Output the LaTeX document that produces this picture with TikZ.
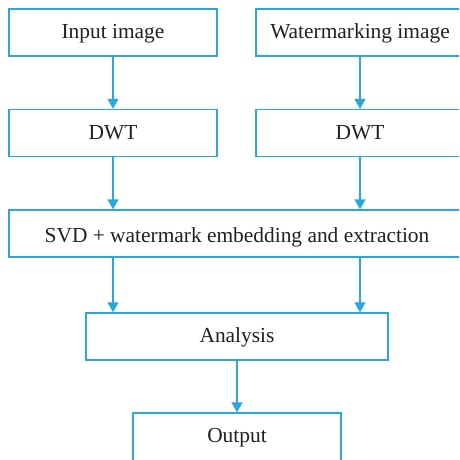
\documentclass[tikz,border=0pt]{standalone}
\usepackage{fontspec}
\setmainfont{Liberation Serif}
\usetikzlibrary{arrows.meta}
\definecolor{flowblue}{RGB}{45,166,222}
\definecolor{ink}{RGB}{35,31,32}
\tikzset{
  box/.style={draw=flowblue, line width=1.3pt, inner sep=0pt, text=ink,
    font=\fontsize{21.4}{25}\selectfont, minimum height=47pt,
    text height=14pt, text depth=2pt},
  flow/.style={draw=flowblue, line width=1.3pt,
    -{Triangle[width=11pt,length=10pt]}}
}
\begin{document}
\begin{tikzpicture}[x=1pt,y=-1pt]
  \clip (0,0) rectangle (459,460);
  \fill[white] (0,0) rectangle (459,460);

  \node[box, minimum width=208pt] (in)  at (113,32.5)    {Input image};
  \node[box, minimum width=208pt] (wm)  at (360,32.5)    {Watermarking image};
  \node[box, minimum width=208pt] (dl)  at (113,133)     {DWT};
  \node[box, minimum width=208pt] (dr)  at (360,133)     {DWT};
  \node[box, minimum width=456pt, text height=20pt] (svd) at (237,233.5)
    {SVD + watermark embedding and extraction};
  \node[box, minimum width=302pt] (ana) at (237,336.5) {Analysis};
  \node[box, minimum width=208pt, minimum height=51pt, text depth=6pt] (out)
    at (237,438.5) {Output};

  \draw[flow] (in.south) -- (dl.north);
  \draw[flow] (wm.south) -- (dr.north);
  \draw[flow] (dl.south) -- (dl.south |- svd.north);
  \draw[flow] (dr.south) -- (dr.south |- svd.north);
  \draw[flow] (dl.south |- svd.south) -- (dl.south |- ana.north);
  \draw[flow] (dr.south |- svd.south) -- (dr.south |- ana.north);
  \draw[flow] (ana.south) -- (out.north);
\end{tikzpicture}
\end{document}
